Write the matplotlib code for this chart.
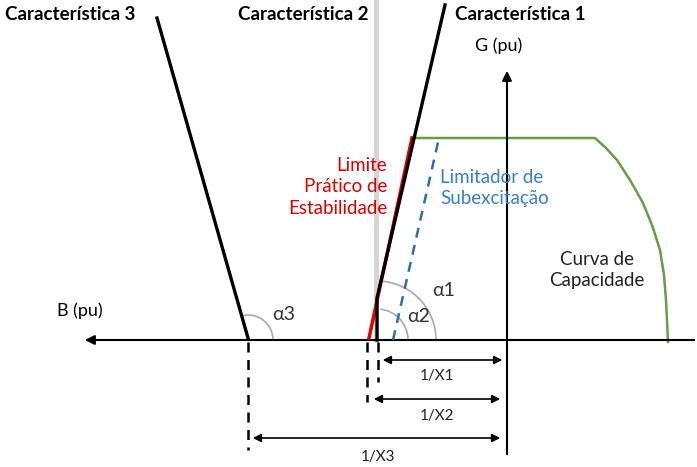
import matplotlib.pyplot as plt
from matplotlib.patches import Arc

plt.rcParams['font.family'] = ['Lato', 'DejaVu Sans']

# diagram geometry (pixel space of the original figure)
char1_x = [377, 377, 445]
char1_y = [340, 298, 5]
char3_x = [248, 157]
char3_y = [338, 18]
red_x = [369, 412]
red_y = [338, 138]
blue_x = [393, 439]
blue_y = [340, 138]
cap_x = [412, 595, 606, 617, 630, 643, 652, 660, 664, 666, 668]
cap_y = [138, 138, 148, 160, 180, 203, 225, 250, 275, 300, 342]

dash_x = [248, 367, 378]
dash_bottom = [450, 402, 382]

dim_labels = ['1/X1', '1/X2', '1/X3']
dim_left = [380, 371, 250]
dim_right = [505, 503, 503]
dim_y = [360, 399, 438]
dim_text_x = [437, 437, 378]
dim_text_y = [376, 416, 457]

fig = plt.figure(figsize=(6.97, 4.67), dpi=100)
ax = fig.add_axes([0, 0, 1, 1])
ax.set_xlim(0, 697)
ax.set_ylim(467, 0)
ax.axis('off')

# gray vertical (característica 2)
ax.plot([376, 376], [0, 340], color='#d4d4d4', lw=3.5, zorder=1)

# axes
ax.annotate('', xy=(82, 340), xytext=(697, 340),
            arrowprops=dict(arrowstyle='-|>', color='black', lw=1.5, mutation_scale=14))
ax.annotate('', xy=(507, 68), xytext=(507, 457),
            arrowprops=dict(arrowstyle='-|>', color='black', lw=1.5, mutation_scale=14))

ax.plot(cap_x, cap_y, color='#6a9c45', lw=1.8, zorder=2)
ax.plot(red_x, red_y, color='#e00000', lw=2.5, zorder=3)
ax.plot(blue_x, blue_y, color='#2f6ea5', lw=1.8, ls=(0, (4, 3)), zorder=3)
ax.plot(char1_x, char1_y, color='black', lw=2.4, zorder=4)
ax.plot(char3_x, char3_y, color='black', lw=2.4, zorder=4)

for x, yb in zip(dash_x, dash_bottom):
    ax.plot([x, x], [342, yb], color='black', lw=1.8, ls=(0, (4, 3)))

# angle arcs (y axis inverted -> negative angles go up)
ax.add_patch(Arc((377, 340), 118, 118, theta1=-84, theta2=0, color='#aaaaaa', lw=1.2))
ax.add_patch(Arc((377, 340), 62, 62, theta1=-84, theta2=0, color='#aaaaaa', lw=1.2))
ax.add_patch(Arc((248, 340), 50, 50, theta1=-106, theta2=0, color='#aaaaaa', lw=1.2))

for lab, xl, xr, y, tx, ty in zip(dim_labels, dim_left, dim_right, dim_y, dim_text_x, dim_text_y):
    ax.annotate('', xy=(xr, y), xytext=(xl, y),
                arrowprops=dict(arrowstyle='<|-|>', color='black', lw=1.2, mutation_scale=12))
    ax.text(tx, ty, lab, ha='center', va='center', fontsize=11, color='#222222')

# titles
ax.text(5, 15, 'Característica 3', fontsize=13.5, fontweight='bold', va='center', ha='left')
ax.text(303, 15, 'Característica 2', fontsize=13.5, fontweight='bold', va='center', ha='center')
ax.text(455, 15, 'Característica 1', fontsize=13.5, fontweight='bold', va='center', ha='left')

ax.text(475, 46, 'G (pu)', fontsize=13, va='center', ha='left')
ax.text(57, 311, 'B (pu)', fontsize=13, va='center', ha='left')

ax.text(387, 187, 'Limite\nPrático de\nEstabilidade', fontsize=13.5, color='#d40000',
        ha='right', va='center', linespacing=1.3, multialignment='right')
ax.text(440, 188, 'Limitador de\nSubexcitação', fontsize=13.5, color='#3b7fc4',
        ha='left', va='center', linespacing=1.3)
ax.text(597, 270, 'Curva de\nCapacidade', fontsize=13.5, color='#222222',
        ha='center', va='center', linespacing=1.3)

ax.text(432, 291, 'α1', fontsize=14, color='#333333', va='center')
ax.text(407, 316, 'α2', fontsize=14, color='#333333', va='center')
ax.text(272, 314, 'α3', fontsize=14, color='#333333', va='center')

fig.savefig('out.png', dpi=100)
